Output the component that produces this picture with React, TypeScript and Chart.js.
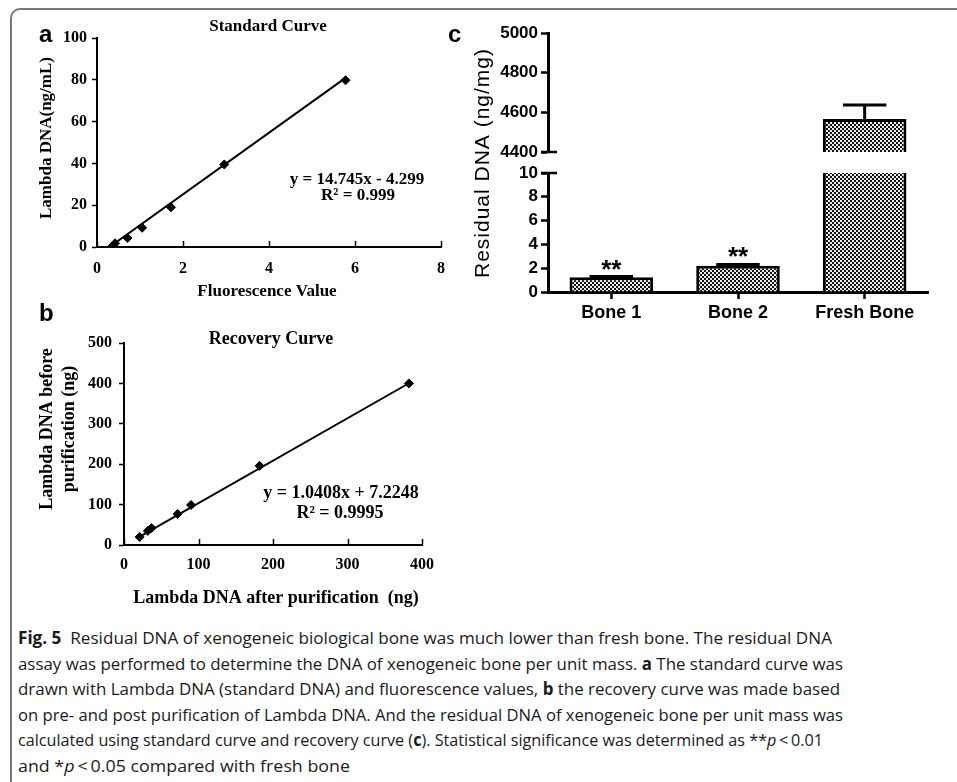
import React, { useEffect, useLayoutEffect, useRef } from 'react';
import { Chart, registerables } from 'chart.js';
Chart.register(...registerables);

// ---- Panel a: standard curve ----
const stdFluor = [0.34, 0.42, 0.71, 1.05, 1.72, 2.96, 5.78];
const stdDNA = [0, 1.8, 4.3, 9.2, 19, 39.5, 79.8];
const stdTrendX = [0.29, 5.78];
const stdTrendY = [0, 80.9];
const stdXTicks = [0, 2, 4, 6, 8];
const stdYTicks = [0, 20, 40, 60, 80, 100];

// ---- Panel b: recovery curve ----
const recAfter = [21, 32, 37, 72, 90, 182, 382.5];
const recBefore = [20, 35, 42, 77, 99, 196, 400];
const recTrendX = [17, 383];
const recTrendY = [16.6, 401];
const recXTicks = [0, 100, 200, 300, 400];
const recYTicks = [0, 100, 200, 300, 400, 500];

// ---- Panel c: residual DNA ----
const boneLabels = ['Bone 1', 'Bone 2', 'Fresh Bone'];
const boneDNA = [1.25, 2.2, 4566];
const boneErr = [0.05, 0.12, 71];
const boneSig = ['**', '**', ''];
const lowTicks = [0, 2, 4, 6, 8, 10];
const highTicks = [4400, 4600, 4800, 5000];

const SERIF = 'Liberation Serif';
const SANS = 'Liberation Sans';

type TextItem = {
  t: string; x: number; y: number; font: string; rot?: number;
  align?: CanvasTextAlign; base?: CanvasTextBaseline; ls?: string;
};

function textPlugin(id: string, items: TextItem[]) {
  return {
    id,
    afterDraw(chart: any) {
      const ctx = chart.ctx as CanvasRenderingContext2D;
      for (const it of items) {
        ctx.save();
        ctx.fillStyle = '#000';
        ctx.translate(it.x, it.y);
        if (it.rot) ctx.rotate(it.rot);
        ctx.font = it.font;
        (ctx as any).letterSpacing = it.ls || '0px';
        ctx.textAlign = it.align || 'center';
        ctx.textBaseline = it.base || 'middle';
        ctx.fillText(it.t, 0, 0);
        ctx.restore();
      }
    },
  };
}

const innerXTicks = {
  id: 'innerXTicks',
  afterDraw(chart: any) {
    const x = chart.scales.x;
    const ctx = chart.ctx as CanvasRenderingContext2D;
    const b = chart.chartArea.bottom;
    ctx.save();
    ctx.strokeStyle = '#000';
    ctx.lineWidth = 1.5;
    for (const t of x.ticks) {
      const px = Math.round(x.getPixelForValue(t.value)) + 0.5;
      ctx.beginPath();
      ctx.moveTo(px, b);
      ctx.lineTo(px, b - 6);
      ctx.stroke();
    }
    ctx.restore();
  },
};

function fixedTicks(arr: number[]) {
  return (s: any) => { s.ticks = arr.map((v) => ({ value: v })); };
}

const plainLabel = (v: any) => String(v);

function scatterChart(canvas: HTMLCanvasElement, xs: number[], ys: number[], tx: number[], ty: number[],
  xr: number[], yr: number[], pad: any, yW: number, xH: number, texts: any, yPad: number, xPad: number) {
  const tickFont = { family: SERIF, size: 16, weight: 'bold' as const };
  return new Chart(canvas, {
    type: 'scatter',
    data: {
      datasets: [
        {
          data: xs.map((x, i) => ({ x, y: ys[i] })),
          pointStyle: 'rectRot', pointRadius: 4.5, backgroundColor: '#000', borderColor: '#000', borderWidth: 1,
        } as any,
        {
          data: tx.map((x, i) => ({ x, y: ty[i] })),
          showLine: true, pointRadius: 0, borderColor: '#000', borderWidth: 2, fill: false,
        } as any,
      ],
    },
    options: {
      animation: false, responsive: false, maintainAspectRatio: false, events: [],
      layout: { padding: pad },
      plugins: { legend: { display: false }, tooltip: { enabled: false }, title: { display: false } },
      scales: {
        x: {
          type: 'linear', min: xr[0], max: xr[xr.length - 1],
          afterBuildTicks: fixedTicks(xr),
          afterFit: (s: any) => { s.height = xH; },
          grid: { display: false },
          border: { display: true, color: '#000', width: 2 },
          ticks: { font: tickFont, color: '#000', padding: xPad, callback: plainLabel },
        },
        y: {
          type: 'linear', min: yr[0], max: yr[yr.length - 1],
          afterBuildTicks: fixedTicks(yr),
          afterFit: (s: any) => { s.width = yW; },
          grid: { display: true, drawOnChartArea: false, drawTicks: true, tickLength: 5, tickWidth: 1.5, tickColor: '#000' },
          border: { display: true, color: '#000', width: 2 },
          ticks: { font: tickFont, color: '#000', padding: yPad, callback: plainLabel },
        },
      },
    },
    plugins: [innerXTicks, texts],
  } as any);
}

function makePattern(canvas: HTMLCanvasElement) {
  const c = document.createElement('canvas');
  c.width = 4; c.height = 4;
  const g = c.getContext('2d')!;
  g.fillStyle = '#eeeeee';
  g.fillRect(0, 0, 4, 4);
  g.fillStyle = '#111111';
  g.fillRect(0, 0, 2, 2);
  g.fillRect(2, 2, 2, 2);
  return canvas.getContext('2d')!.createPattern(c, 'repeat');
}

function errorPlugin(id: string, stars: boolean) {
  return {
    id,
    afterDatasetsDraw(chart: any) {
      const meta = chart.getDatasetMeta(0);
      const y = chart.scales.y;
      const ctx = chart.ctx as CanvasRenderingContext2D;
      ctx.save();
      ctx.strokeStyle = '#000';
      ctx.fillStyle = '#000';
      ctx.lineWidth = 3;
      boneDNA.forEach((v, i) => {
        const top = v + boneErr[i];
        if (v < y.min || top > y.max) return;
        const bar = meta.data[i];
        const x = bar.x;
        const w = bar.width;
        const p0 = y.getPixelForValue(v);
        const p1 = y.getPixelForValue(top);
        ctx.beginPath();
        ctx.moveTo(x, p0); ctx.lineTo(x, p1);
        ctx.moveTo(x - w * 0.26, p1); ctx.lineTo(x + w * 0.26, p1);
        ctx.stroke();
        if (stars && boneSig[i]) {
          ctx.font = `bold 26px ${SANS}`;
          ctx.textAlign = 'center';
          ctx.textBaseline = 'alphabetic';
          ctx.fillText(boneSig[i], x, p1 + 1);
        }
      });
      ctx.restore();
    },
  };
}

function breakMark(id: string, atTop: boolean) {
  return {
    id,
    afterDraw(chart: any) {
      const a = chart.chartArea;
      const ctx = chart.ctx as CanvasRenderingContext2D;
      const yy = atTop ? a.top : a.bottom;
      ctx.save();
      ctx.strokeStyle = '#000';
      ctx.lineWidth = 2.5;
      ctx.beginPath();
      ctx.moveTo(a.left - 7, yy);
      ctx.lineTo(a.left + 9, yy);
      ctx.stroke();
      ctx.restore();
    },
  };
}

function barOptions(pad: any, yTicks: number[], showX: boolean, xH: number) {
  return {
    animation: false, responsive: false, maintainAspectRatio: false, events: [],
    layout: { padding: pad },
    plugins: { legend: { display: false }, tooltip: { enabled: false } },
    scales: {
      x: {
        display: showX,
        afterFit: (s: any) => { s.height = xH; },
        grid: { display: true, offset: false, drawOnChartArea: false, drawTicks: true, tickLength: 7, tickWidth: 2.5, tickColor: '#000' },
        border: { display: true, color: '#000', width: 3 },
        ticks: { font: { family: SANS, size: 18, weight: 'bold' }, color: '#000', padding: 3 },
      },
      y: {
        min: yTicks[0], max: yTicks[yTicks.length - 1],
        afterBuildTicks: fixedTicks(yTicks),
        afterFit: (s: any) => { s.width = 118; },
        grid: { display: true, drawOnChartArea: false, drawTicks: true, tickLength: 7, tickWidth: 2.5, tickColor: '#000' },
        border: { display: true, color: '#000', width: 3 },
        ticks: { font: { family: SANS, size: 17, weight: 'bold' }, color: '#000', padding: 3, callback: plainLabel },
      },
    },
  };
}

// target widths of the caption lines (layout only)
const captionLineWidths = [814, 825, 822, 825, 805, 332];

export default function App() {
  const aRef = useRef<HTMLCanvasElement>(null);
  const bRef = useRef<HTMLCanvasElement>(null);
  const cLowRef = useRef<HTMLCanvasElement>(null);
  const cHighRef = useRef<HTMLCanvasElement>(null);
  const capRefs = useRef<(HTMLSpanElement | null)[]>([]);

  useLayoutEffect(() => {
    capRefs.current.forEach((el, i) => {
      if (!el) return;
      el.style.transform = 'none';
      const w = el.getBoundingClientRect().width;
      if (w > 0) el.style.transform = `scaleX(${captionLineWidths[i] / w})`;
    });
  }, []);

  useEffect(() => {
    const charts: Chart[] = [];
    const tf = (s: number) => `bold ${s}px ${SERIF}`;

    charts.push(scatterChart(aRef.current!, stdFluor, stdDNA, stdTrendX, stdTrendY, stdXTicks, stdYTicks,
      { left: 0, top: 38, right: 29, bottom: 0 }, 97, 63,
      textPlugin('textA', [
        { t: 'a', x: 39, y: 42, font: `bold 24px ${SANS}`, align: 'left', base: 'alphabetic' },
        { t: 'Standard Curve', x: 268, y: 27, font: tf(17) },
        { t: 'Lambda DNA(ng/mL)', x: 47, y: 138, font: tf(17), rot: -Math.PI / 2 },
        { t: 'Fluorescence Value', x: 267, y: 292, font: tf(17) },
        { t: 'y = 14.745x - 4.299', x: 357, y: 180, font: tf(17) },
        { t: 'R\u00B2 = 0.999', x: 358, y: 196, font: tf(17) },
      ]), 5, 4));

    charts.push(scatterChart(bRef.current!, recAfter, recBefore, recTrendX, recTrendY, recXTicks, recYTicks,
      { left: 0, top: 43, right: 48, bottom: 0 }, 124, 75,
      textPlugin('textB', [
        { t: 'b', x: 39, y: 21, font: `bold 24px ${SANS}`, align: 'left', base: 'alphabetic' },
        { t: 'Recovery Curve', x: 271, y: 39, font: tf(18) },
        { t: 'Lambda DNA before', x: 47, y: 129, font: tf(18), rot: -Math.PI / 2 },
        { t: 'purification (ng)', x: 69, y: 129, font: tf(18), rot: -Math.PI / 2 },
        { t: 'Lambda DNA after purification  (ng)', x: 276, y: 298, font: tf(18) },
        { t: 'y = 1.0408x + 7.2248', x: 341, y: 193, font: tf(18) },
        { t: 'R\u00B2 = 0.9995', x: 340, y: 213, font: tf(18) },
      ]), 7, 2));

    const lowPat = makePattern(cLowRef.current!);
    charts.push(new Chart(cLowRef.current!, {
      type: 'bar',
      data: {
        labels: boneLabels,
        datasets: [{
          data: boneDNA, backgroundColor: lowPat, borderColor: '#000', borderWidth: 3, borderSkipped: 'bottom',
          categoryPercentage: 1, barPercentage: 0.66,
          clip: { left: false, right: false, top: 0, bottom: false },
        }],
      },
      options: barOptions({ left: 0, top: 173, right: 29, bottom: 0 }, lowTicks, true, 48),
      plugins: [errorPlugin('errLow', true), breakMark('brkLow', true)],
    } as any));

    const highPat = makePattern(cHighRef.current!);
    charts.push(new Chart(cHighRef.current!, {
      type: 'bar',
      data: {
        labels: boneLabels,
        datasets: [{
          data: boneDNA.map((v) => (v >= highTicks[0] ? v : null)), backgroundColor: highPat, borderColor: '#000', borderWidth: 3, borderSkipped: 'bottom',
          categoryPercentage: 1, barPercentage: 0.66,
          clip: { left: false, right: false, top: false, bottom: 0 },
        }],
      },
      options: barOptions({ left: 0, top: 33, right: 29, bottom: 188 }, highTicks, false, 0),
      plugins: [errorPlugin('errHigh', false), breakMark('brkHigh', false),
        textPlugin('textC', [
          { t: 'c', x: 18, y: 42, font: `bold 24px ${SANS}`, align: 'left', base: 'alphabetic' },
          { t: 'Residual DNA (ng/mg)', x: 53, y: 163, font: `21px ${SANS}`, rot: -Math.PI / 2, ls: '1px' },
        ])],
    } as any));

    return () => charts.forEach((c) => c.destroy());
  }, []);

  const cv = (l: number, t: number, w: number, h: number) => ({ position: 'absolute' as const, left: l, top: t, width: w, height: h });
  const lineStyle = { whiteSpace: 'nowrap' as const, height: 25.6 };
  const spanStyle = { display: 'inline-block', transformOrigin: 'left center' };
  const setRef = (i: number) => (el: HTMLSpanElement | null) => { capRefs.current[i] = el; };
  const lt = '\u2009<\u2009';

  return (
    <div style={{ position: 'absolute', left: 0, top: 0, width: 957, height: 782, background: '#fff', overflow: 'hidden' }}>
      <div style={{ position: 'absolute', left: 10, top: 8, width: 1000, height: 900, borderTop: '2px solid #777', borderLeft: '2px solid #777', borderTopLeftRadius: 10 }} />
      <canvas ref={aRef} width={470} height={310} style={cv(0, 0, 470, 310)} />
      <canvas ref={bRef} width={470} height={320} style={cv(0, 300, 470, 320)} />
      <canvas ref={cLowRef} width={527} height={340} style={cv(430, 0, 527, 340)} />
      <canvas ref={cHighRef} width={527} height={340} style={cv(430, 0, 527, 340)} />
      <div style={{ position: 'absolute', left: 18, top: 625, fontFamily: '"Open Sans", sans-serif', fontSize: 17, lineHeight: '25.6px', color: '#1a1a1a' }}>
        <div style={lineStyle}><span ref={setRef(0)} style={spanStyle}><b>Fig. 5</b>&nbsp; Residual DNA of xenogeneic biological bone was much lower than fresh bone. The residual DNA</span></div>
        <div style={lineStyle}><span ref={setRef(1)} style={spanStyle}>assay was performed to determine the DNA of xenogeneic bone per unit mass. <b>a</b> The standard curve was</span></div>
        <div style={lineStyle}><span ref={setRef(2)} style={spanStyle}>drawn with Lambda DNA (standard DNA) and fluorescence values, <b>b</b> the recovery curve was made based</span></div>
        <div style={lineStyle}><span ref={setRef(3)} style={spanStyle}>on pre- and post purification of Lambda DNA. And the residual DNA of xenogeneic bone per unit mass was</span></div>
        <div style={lineStyle}><span ref={setRef(4)} style={spanStyle}>calculated using standard curve and recovery curve (<b>c</b>). Statistical significance was determined as **<i>p</i>{lt}0.01</span></div>
        <div style={lineStyle}><span ref={setRef(5)} style={spanStyle}>and *<i>p</i>{lt}0.05 compared with fresh bone</span></div>
      </div>
    </div>
  );
}
